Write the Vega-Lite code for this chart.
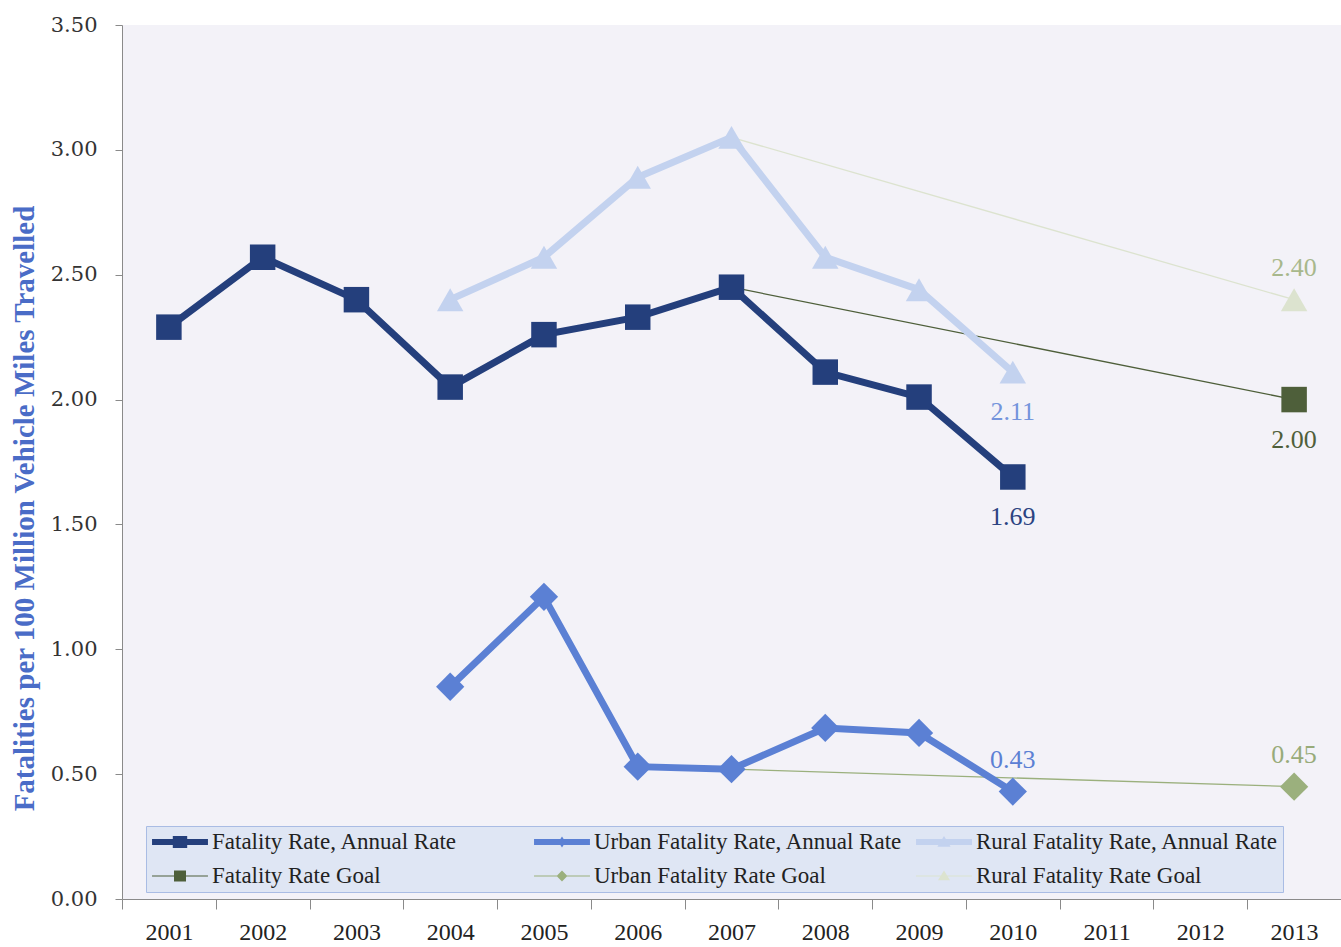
{
  "$schema": "https://vega.github.io/schema/vega-lite/v6.json",
  "width": 1219,
  "height": 874,
  "autosize": {"type": "none"},
  "padding": {"left": 122, "top": 25, "right": 0, "bottom": 48},
  "background": "white",
  "config": {
    "view": {"fill": "#f3f2f8", "stroke": null},
    "axis": {"domainColor": "#8a8a8a", "tickColor": "#8a8a8a", "grid": false}
  },
  "data": {
    "values": [
      {"year": "2001", "series": "Fatality Rate, Annual Rate", "value": 2.29},
      {"year": "2002", "series": "Fatality Rate, Annual Rate", "value": 2.57},
      {"year": "2003", "series": "Fatality Rate, Annual Rate", "value": 2.40},
      {"year": "2004", "series": "Fatality Rate, Annual Rate", "value": 2.05},
      {"year": "2005", "series": "Fatality Rate, Annual Rate", "value": 2.26},
      {"year": "2006", "series": "Fatality Rate, Annual Rate", "value": 2.33},
      {"year": "2007", "series": "Fatality Rate, Annual Rate", "value": 2.45},
      {"year": "2008", "series": "Fatality Rate, Annual Rate", "value": 2.11},
      {"year": "2009", "series": "Fatality Rate, Annual Rate", "value": 2.01},
      {"year": "2010", "series": "Fatality Rate, Annual Rate", "value": 1.69},
      {"year": "2004", "series": "Urban Fatality Rate, Annual Rate", "value": 0.85},
      {"year": "2005", "series": "Urban Fatality Rate, Annual Rate", "value": 1.21},
      {"year": "2006", "series": "Urban Fatality Rate, Annual Rate", "value": 0.53},
      {"year": "2007", "series": "Urban Fatality Rate, Annual Rate", "value": 0.52},
      {"year": "2008", "series": "Urban Fatality Rate, Annual Rate", "value": 0.685},
      {"year": "2009", "series": "Urban Fatality Rate, Annual Rate", "value": 0.665},
      {"year": "2010", "series": "Urban Fatality Rate, Annual Rate", "value": 0.43},
      {"year": "2004", "series": "Rural Fatality Rate, Annual Rate", "value": 2.40},
      {"year": "2005", "series": "Rural Fatality Rate, Annual Rate", "value": 2.57},
      {"year": "2006", "series": "Rural Fatality Rate, Annual Rate", "value": 2.89},
      {"year": "2007", "series": "Rural Fatality Rate, Annual Rate", "value": 3.05},
      {"year": "2008", "series": "Rural Fatality Rate, Annual Rate", "value": 2.57},
      {"year": "2009", "series": "Rural Fatality Rate, Annual Rate", "value": 2.44},
      {"year": "2010", "series": "Rural Fatality Rate, Annual Rate", "value": 2.11},
      {"year": "2007", "series": "Fatality Rate Goal", "value": 2.45},
      {"year": "2013", "series": "Fatality Rate Goal", "value": 2.00},
      {"year": "2007", "series": "Urban Fatality Rate Goal", "value": 0.52},
      {"year": "2013", "series": "Urban Fatality Rate Goal", "value": 0.45},
      {"year": "2007", "series": "Rural Fatality Rate Goal", "value": 3.05},
      {"year": "2013", "series": "Rural Fatality Rate Goal", "value": 2.40}
    ]
  },
  "encoding": {
    "x": {
      "field": "year", "type": "ordinal",
      "scale": {"type": "band", "domain": ["2001","2002","2003","2004","2005","2006","2007","2008","2009","2010","2011","2012","2013"], "paddingInner": 0, "paddingOuter": 0},
      "axis": {"title": null, "labelAngle": 0, "tickBand": "extent", "tickSize": 10, "labelFont": "Liberation Serif", "labelFontSize": 24, "labelColor": "#222222", "labelPadding": 11, "domainColor": "#8a8a8a"}
    },
    "y": {
      "field": "value", "type": "quantitative",
      "scale": {"domain": [0, 3.5], "nice": false, "zero": true},
      "axis": {
        "values": [0, 0.5, 1, 1.5, 2, 2.5, 3, 3.5], "format": ".2f", "tickSize": 7,
        "labelFont": "DejaVu Serif", "labelFontSize": 21, "labelColor": "#333333", "labelPadding": 18,
        "title": "Fatalities per 100 Million Vehicle Miles Travelled",
        "titleFont": "Liberation Serif", "titleFontWeight": "bold", "titleFontSize": 29, "titleColor": "#4a6cc7",
        "titleX": -98, "titleY": 483, "titleAngle": -90, "titleAlign": "center", "titleBaseline": "middle"
      }
    },
    "color": {
      "field": "series", "type": "nominal",
      "scale": {
        "domain": ["Fatality Rate, Annual Rate", "Urban Fatality Rate, Annual Rate", "Rural Fatality Rate, Annual Rate", "Fatality Rate Goal", "Urban Fatality Rate Goal", "Rural Fatality Rate Goal"],
        "range": ["#243f7c", "#5b80d4", "#c3d2ef", "#4e5f3a", "#9bb07d", "#dce3cf"]
      },
      "legend": {
        "title": null, "orient": "none", "legendX": 24, "legendY": 801, "direction": "horizontal", "columns": 3,
        "gridAlign": "all", "columnPadding": 11, "rowPadding": 10,
        "fillColor": "#dfe6f4", "strokeColor": "#a9bce4", "padding": 4,
        "symbolSize": 576, "symbolStrokeWidth": 0, "labelOffset": 38,
        "labelFont": "Liberation Serif", "labelFontSize": 23, "labelColor": "#222222", "labelLimit": 400,
        "encode": {
          "symbols": {
            "update": {
              "shape": {"signal": "datum.value == 'Fatality Rate, Annual Rate' ? 'M-0.83,-0.25H3.83V0.25H-0.83Z M0.9,-0.5H2.1V0.5H0.9Z' : datum.value == 'Urban Fatality Rate, Annual Rate' ? 'M-0.83,-0.25H3.83V0.25H-0.83Z M1.5,-0.45L1.8,0L1.5,0.45L1.2,0Z' : datum.value == 'Rural Fatality Rate, Annual Rate' ? 'M-0.83,-0.25H3.83V0.25H-0.83Z M1.5,-0.5L2.05,0.4H0.95Z' : datum.value == 'Fatality Rate Goal' ? 'M-0.83,-0.05H3.83V0.05H-0.83Z M1,-0.45H2V0.45H1Z' : datum.value == 'Urban Fatality Rate Goal' ? 'M-0.83,-0.05H3.83V0.05H-0.83Z M1.5,-0.45L1.95,0L1.5,0.45L1.05,0Z' : 'M-0.83,-0.05H3.83V0.05H-0.83Z M1.5,-0.45L2,0.35H1Z'"},
              "fill": {"signal": "datum.value == 'Fatality Rate, Annual Rate' ? '#243f7c' : datum.value == 'Urban Fatality Rate, Annual Rate' ? '#5b80d4' : datum.value == 'Rural Fatality Rate, Annual Rate' ? '#c3d2ef' : datum.value == 'Fatality Rate Goal' ? '#4e5f3a' : datum.value == 'Urban Fatality Rate Goal' ? '#9bb07d' : '#d3dcc2'"},
              "fillOpacity": {"value": 1},
              "opacity": {"value": 1},
              "stroke": {"value": "transparent"},
              "strokeWidth": {"value": 0}
            }
          }
        }
      }
    }
  },
  "layer": [
    {
      "transform": [{"filter": {"field": "series", "oneOf": ["Fatality Rate Goal", "Urban Fatality Rate Goal", "Rural Fatality Rate Goal"]}}],
      "mark": {"type": "line", "strokeWidth": 1.3}
    },
    {
      "transform": [{"filter": {"field": "series", "oneOf": ["Fatality Rate, Annual Rate", "Urban Fatality Rate, Annual Rate", "Rural Fatality Rate, Annual Rate"]}}],
      "mark": {"type": "line", "strokeWidth": 7, "strokeJoin": "miter"}
    },
    {
      "transform": [
        {"filter": {"field": "series", "oneOf": ["Fatality Rate, Annual Rate", "Fatality Rate Goal"]}},
        {"filter": "datum.series == 'Fatality Rate, Annual Rate' || datum.year == '2013'"}
      ],
      "mark": {"type": "point", "shape": "square", "filled": true, "opacity": 1, "size": 650}
    },
    {
      "transform": [
        {"filter": {"field": "series", "oneOf": ["Urban Fatality Rate, Annual Rate", "Urban Fatality Rate Goal"]}},
        {"filter": "datum.series == 'Urban Fatality Rate, Annual Rate' || datum.year == '2013'"}
      ],
      "mark": {"type": "point", "shape": "diamond", "filled": true, "opacity": 1, "size": 800}
    },
    {
      "transform": [
        {"filter": {"field": "series", "oneOf": ["Rural Fatality Rate, Annual Rate", "Rural Fatality Rate Goal"]}},
        {"filter": "datum.series == 'Rural Fatality Rate, Annual Rate' || datum.year == '2013'"}
      ],
      "mark": {"type": "point", "shape": "triangle-up", "filled": true, "opacity": 1, "size": 700}
    },
    {
      "transform": [
        {"filter": {"field": "series", "oneOf": ["Fatality Rate, Annual Rate", "Rural Fatality Rate, Annual Rate", "Fatality Rate Goal"]}},
        {"filter": {"field": "year", "oneOf": ["2010", "2013"]}}
      ],
      "mark": {"type": "text", "dy": 40, "font": "Liberation Serif", "fontSize": 26, "baseline": "middle", "align": "center"},
      "encoding": {
        "color": null,
        "text": {"field": "value", "type": "quantitative", "format": ".2f"},
        "fill": {
          "field": "series", "type": "nominal", "legend": null,
          "scale": {
            "domain": ["Fatality Rate, Annual Rate", "Urban Fatality Rate, Annual Rate", "Rural Fatality Rate, Annual Rate", "Fatality Rate Goal", "Urban Fatality Rate Goal", "Rural Fatality Rate Goal"],
            "range": ["#2b4381", "#5c80d4", "#7494dc", "#4f5f3a", "#98ab7a", "#a8b88c"]
          }
        }
      }
    },
    {
      "transform": [
        {"filter": {"field": "series", "oneOf": ["Urban Fatality Rate, Annual Rate", "Urban Fatality Rate Goal", "Rural Fatality Rate Goal"]}},
        {"filter": {"field": "year", "oneOf": ["2010", "2013"]}}
      ],
      "mark": {"type": "text", "dy": -32, "font": "Liberation Serif", "fontSize": 26, "baseline": "middle", "align": "center"},
      "encoding": {
        "color": null,
        "text": {"field": "value", "type": "quantitative", "format": ".2f"},
        "fill": {"field": "series", "type": "nominal", "legend": null}
      }
    }
  ]
}
